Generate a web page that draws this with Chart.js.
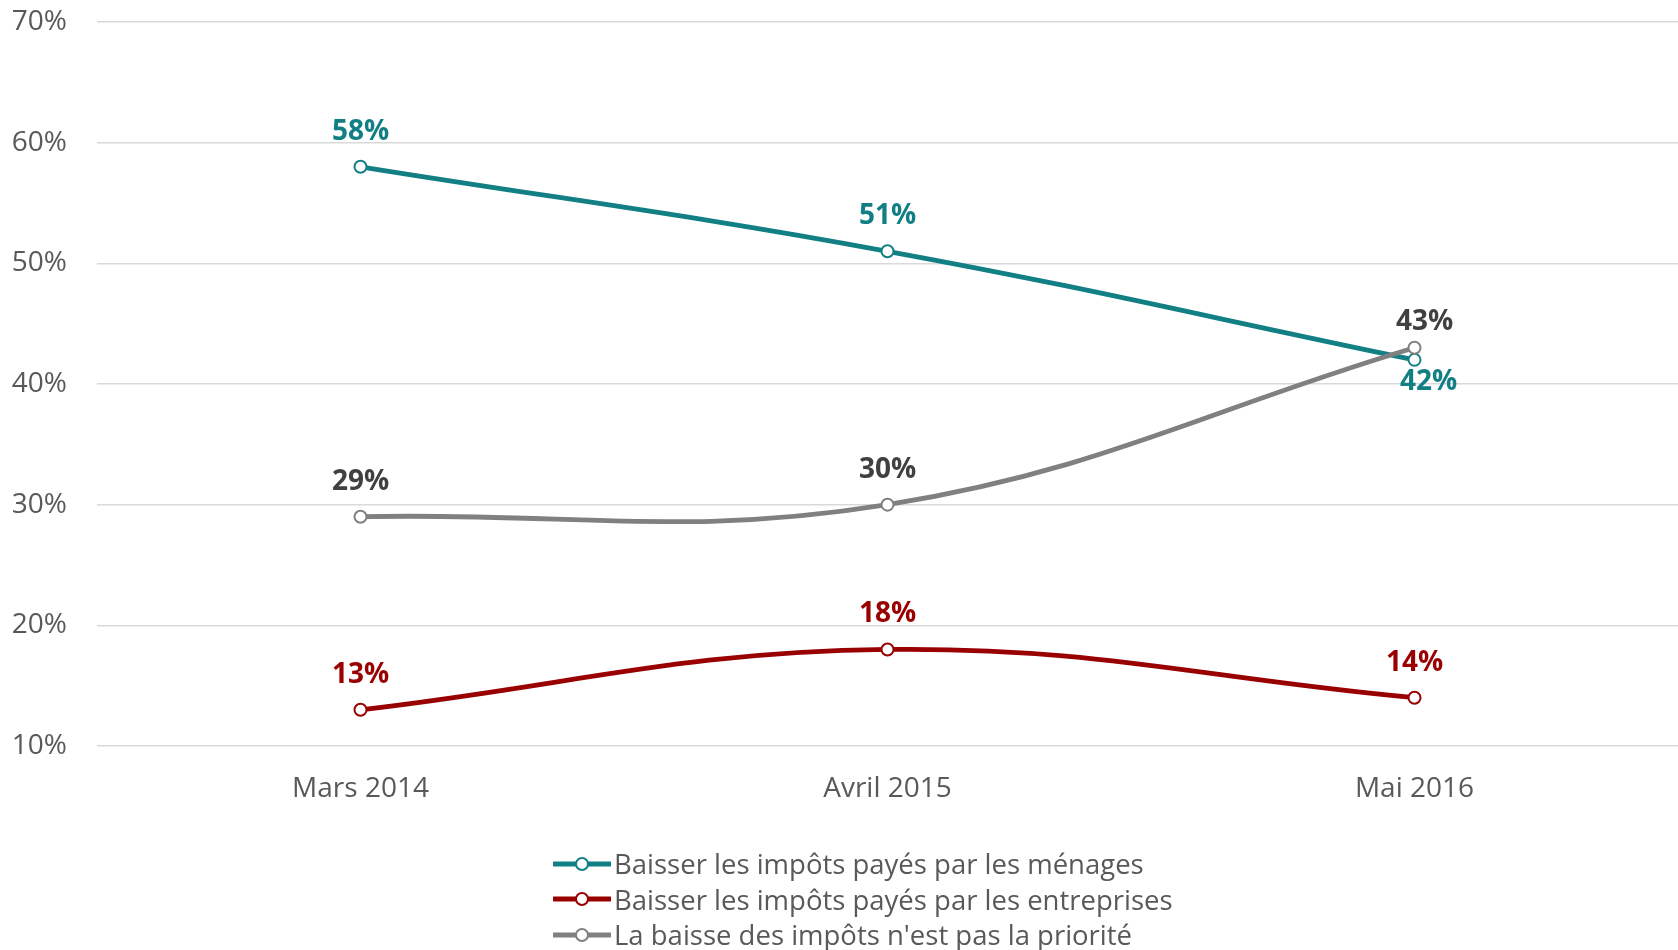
<!DOCTYPE html>
<html><head><meta charset="utf-8">
<script src="https://cdn.jsdelivr.net/npm/chart.js@4.4.0/dist/chart.umd.min.js"></script>
<style>
html,body{margin:0;padding:0;background:#fff;width:1678px;height:950px;overflow:hidden;}
#wrap{position:relative;width:1678px;height:950px;}
#legend{position:absolute;left:553px;top:846px;font-family:'Open Sans',sans-serif;font-size:27.5px;color:#595959;}
.row{display:flex;align-items:center;height:35.5px;white-space:nowrap;}
.row svg{margin-right:3px;flex:none;}
</style></head><body>
<div id="wrap"><canvas id="c" width="1678" height="950"></canvas><div id="legend"></div></div>
<script>
const categories = ['Mars 2014', 'Avril 2015', 'Mai 2016'];
const menages = [58, 51, 42];
const entreprises = [13, 18, 14];
const pasPriorite = [29, 30, 43];
const seriesNames = [
  'Baisser les impôts payés par les ménages',
  'Baisser les impôts payés par les entreprises',
  "La baisse des impôts n'est pas la priorité"
];
const yTickValues = [10, 20, 30, 40, 50, 60, 70];

const TEAL = '#117F84', RED = '#990000', GREY = '#808080';

const labelPlugin = {
  id: 'valueLabels',
  afterDatasetsDraw(chart) {
    const ctx = chart.ctx;
    chart.data.datasets.forEach((ds, i) => {
      const meta = chart.getDatasetMeta(i);
      meta.data.forEach((pt, j) => {
        const off = (ds.labelOffsets && ds.labelOffsets[j]) || [0, -35];
        ctx.save();
        ctx.font = 'bold 28px "Open Sans"';
        ctx.fillStyle = ds.labelColor;
        ctx.textAlign = 'center';
        ctx.textBaseline = 'middle';
        ctx.fillText(ds.data[j] + '%', pt.x + off[0], pt.y + off[1]);
        ctx.restore();
      });
    });
  }
};

function mk(name, data, color, labelColor, order, offsets) {
  return {
    label: name, data, borderColor: color, backgroundColor: '#fff',
    borderWidth: 4.8, tension: 0.4, pointRadius: 6, pointHoverRadius: 6,
    pointBorderWidth: 2, pointBackgroundColor: '#fff', pointBorderColor: color,
    labelColor, order, labelOffsets: offsets, fill: false
  };
}

function zeroPad(s) { s.paddingTop = 0; s.paddingBottom = 0; s.paddingLeft = 0; s.paddingRight = 0; }

function build() {
  const datasets = [
    mk(seriesNames[0], menages, TEAL, TEAL, 2, [null, null, [14, 22]]),
    mk(seriesNames[1], entreprises, RED, RED, 1, null),
    mk(seriesNames[2], pasPriorite, GREY, '#404040', 0, [null, null, [10, -26]])
  ];
  const chart = new Chart(document.getElementById('c'), {
    type: 'line',
    data: { labels: categories, datasets },
    options: {
      responsive: false, animation: false, devicePixelRatio: 1,
      layout: { autoPadding: false, padding: { top: 22, right: 0, left: 0, bottom: 144 } },
      plugins: { legend: { display: false }, tooltip: { enabled: false } },
      events: [],
      scales: {
        x: {
          offset: true,
          grid: { display: false },
          border: { display: false },
          ticks: { color: '#595959', font: { family: 'Open Sans', size: 28 }, padding: 18 },
          afterFit(s) { s.height = 60; zeroPad(s); }
        },
        y: {
          min: yTickValues[0], max: yTickValues[yTickValues.length - 1],
          afterBuildTicks(s) { s.ticks = yTickValues.map(v => ({ value: v })); },
          grid: { color: '#D9D9D9', lineWidth: 1.5, drawTicks: false },
          border: { display: false },
          ticks: { color: '#595959', font: { family: 'Open Sans', size: 28 }, padding: 30, callback: v => v + '%' },
          afterFit(s) { s.width = 97; zeroPad(s); }
        }
      }
    },
    plugins: [labelPlugin]
  });

  const leg = document.getElementById('legend');
  datasets.forEach(ds => {
    const row = document.createElement('div');
    row.className = 'row';
    const c = ds.borderColor;
    row.innerHTML = '<svg width="58" height="18" viewBox="0 0 58 18"><line x1="1" y1="9" x2="57" y2="9" stroke="' + c +
      '" stroke-width="5" stroke-linecap="round"/><circle cx="29" cy="9" r="6" fill="#fff" stroke="' + c +
      '" stroke-width="2"/></svg><span></span>';
    row.querySelector('span').textContent = ds.label;
    leg.appendChild(row);
  });
}
Promise.all([
  document.fonts.load('28px "Open Sans"'),
  document.fonts.load('bold 28px "Open Sans"')
]).then(build, build);
</script>
</body></html>
